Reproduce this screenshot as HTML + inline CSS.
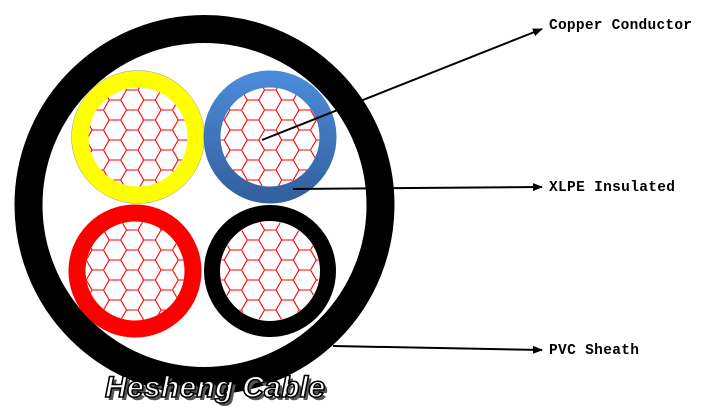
<!DOCTYPE html>
<html><head><meta charset="utf-8"><style>
html,body{margin:0;padding:0;background:#fff;width:719px;height:410px;overflow:hidden}
</style></head><body>
<svg width="719" height="410" viewBox="0 0 719 410" xmlns="http://www.w3.org/2000/svg">
<defs>
<pattern id="hex" width="34.5" height="20" patternUnits="userSpaceOnUse">
<path d="M0,10 L5.75,0 L17.25,0 L23,10 L17.25,20 L5.75,20 Z M23,10 L34.5,10" fill="none" stroke="#f00" stroke-width="1.1"/>
</pattern>
<linearGradient id="bl" x1="0" y1="0" x2="0" y2="1"><stop offset="0" stop-color="#4a8ad8"/><stop offset="1" stop-color="#3461a0"/></linearGradient>
<marker id="ar" markerWidth="10" markerHeight="8" refX="9" refY="4" orient="auto" markerUnits="userSpaceOnUse"><path d="M0,0 L10,4 L0,8 Z" fill="#000"/></marker>
</defs>
<circle cx="204.5" cy="205" r="176" fill="none" stroke="#000" stroke-width="28"/>
<circle cx="138" cy="137" r="58" fill="none" stroke="#ffff00" stroke-width="17"/>
<circle cx="138" cy="137" r="66.5" fill="none" stroke="#999" stroke-width="0.5"/>
<circle cx="270" cy="137" r="58" fill="none" stroke="url(#bl)" stroke-width="17"/>
<circle cx="135" cy="271" r="58" fill="none" stroke="#f00" stroke-width="17"/>
<circle cx="270" cy="271" r="58" fill="none" stroke="#000" stroke-width="16"/>
<circle cx="138" cy="137" r="49.5" fill="url(#hex)"/>
<circle cx="270" cy="137" r="49.5" fill="url(#hex)"/>
<circle cx="135" cy="271" r="49.5" fill="url(#hex)"/>
<circle cx="270" cy="271" r="49.5" fill="url(#hex)"/>
<line x1="262" y1="140" x2="542" y2="29" stroke="#000" stroke-width="2" marker-end="url(#ar)"/>
<line x1="293" y1="189" x2="542" y2="187" stroke="#000" stroke-width="2" marker-end="url(#ar)"/>
<line x1="333" y1="346" x2="542" y2="350" stroke="#000" stroke-width="2" marker-end="url(#ar)"/>
<g font-family="Liberation Mono, monospace" font-size="14.5" font-weight="bold" fill="#000">
<text x="549" y="29" textLength="143">Copper Conductor</text>
<text x="549" y="191" textLength="126">XLPE Insulated</text>
<text x="549" y="354" textLength="90">PVC Sheath</text>
</g>
<text x="108" y="400" font-family="Liberation Sans, sans-serif" font-size="30" font-weight="bold" font-style="italic" fill="#555" textLength="220">Hesheng Cable</text>
<text x="105" y="397" font-family="Liberation Sans, sans-serif" font-size="30" font-weight="bold" font-style="italic" fill="#fff" stroke="#000" stroke-width="1.6" textLength="220">Hesheng Cable</text>
</svg>
</body></html>
